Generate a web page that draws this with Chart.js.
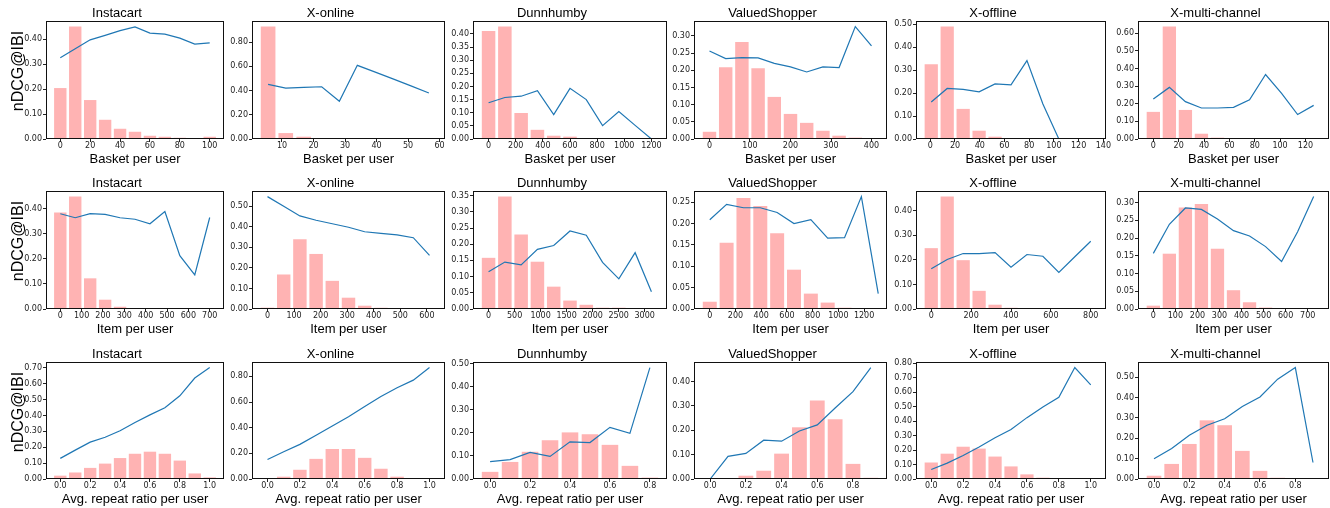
<!DOCTYPE html>
<html>
<head>
<meta charset="utf-8">
<script src="https://cdn.jsdelivr.net/npm/chart.js@4.4.0/dist/chart.umd.min.js"></script>
<style>
body { margin: 0; background: #fff; }
#wrap { position: relative; width: 1330px; height: 508px; overflow: hidden; background: #fff; }
canvas { position: absolute; }
.ylab { position: absolute; width: 140px; height: 20px; line-height: 20px; text-align: center;
        font-family: 'Liberation Sans', sans-serif; font-size: 16px; color: #000;
        transform: rotate(-90deg); white-space: nowrap; }
</style>
</head>
<body>
<div id="wrap"></div>
<script>
// JavaScript source code
var panelTitles = ["Instacart", "X-online", "Dunnhumby", "ValuedShopper", "X-offline", "X-multi-channel"];
var rowLabels = ["Basket per user", "Item per user", "Avg. repeat ratio per user"];
var yLabel = "nDCG@IBI";

// ---- Basket per user ----
var basketInstacartBins = [0, 10, 20, 30, 40, 50, 60, 70, 80, 90, 100];
var basketInstacartUsers = [0.204, 0.450, 0.156, 0.077, 0.041, 0.029, 0.013, 0.009, 0.005, 0.001, 0.009];
var basketInstacartNdcg = [0.325, 0.361, 0.397, 0.415, 0.434, 0.449, 0.424, 0.420, 0.404, 0.380, 0.385];

var basketOnlineBins = [5.6, 11.2, 16.9, 22.6, 28.2, 33.9, 39.6, 45.2, 50.9, 56.6];
var basketOnlineUsers = [0.929, 0.049, 0.019, 0.006, 0.003, 0.002, 0.001, 0.001, 0.0005, 0.0005];
var basketOnlineNdcg = [0.451, 0.421, 0.427, 0.432, 0.312, 0.609, 0.553, 0.497, 0.439, 0.380];

var basketDunnBins = [0, 120, 240, 360, 480, 600, 720, 840, 960, 1080, 1200];
var basketDunnUsers = [0.411, 0.428, 0.099, 0.035, 0.0125, 0.009, 0.002, 0.001, 0.0005, 0.0003, 0.0002];
var basketDunnNdcg = [0.138, 0.158, 0.163, 0.184, 0.093, 0.193, 0.150, 0.051, 0.105, 0.052, 0.0];

var basketValuedBins = [0, 40, 80, 120, 160, 200, 240, 280, 320, 360, 400];
var basketValuedUsers = [0.021, 0.209, 0.282, 0.206, 0.1225, 0.073, 0.047, 0.024, 0.0096, 0.004, 0.001];
var basketValuedNdcg = [0.256, 0.234, 0.237, 0.236, 0.220, 0.210, 0.195, 0.210, 0.208, 0.327, 0.271];

var basketOfflineBins = [0.8, 13.7, 26.6, 39.5, 52.4, 65.3, 78.2, 91.1, 104, 116.9, 129.8];
var basketOfflineUsers = [0.325, 0.489, 0.131, 0.036, 0.010, 0.003, 0.002, 0.001, 0.0005, 0.0003, 0.0002];
var basketOfflineNdcg = [0.161, 0.220, 0.216, 0.205, 0.240, 0.236, 0.341, 0.152, 0.0, null, null];

var basketMultiBins = [0, 12.65, 25.3, 37.95, 50.6, 63.25, 75.9, 88.55, 101.2, 113.85, 126.5];
var basketMultiUsers = [0.154, 0.638, 0.165, 0.030, 0.0075, 0.002, 0.001, 0.0005, 0.0003, 0.0002, 0.0002];
var basketMultiNdcg = [0.227, 0.293, 0.212, 0.176, 0.176, 0.180, 0.223, 0.366, 0.259, 0.139, 0.191];

// ---- Item per user ----
var itemInstacartBins = [0, 70, 140, 210, 280, 350, 420, 490, 560, 630, 700];
var itemInstacartUsers = [0.384, 0.447, 0.122, 0.037, 0.009, 0.002, 0.001, 0.0005, 0.0003, 0.0002, 0.0001];
var itemInstacartNdcg = [0.379, 0.363, 0.379, 0.376, 0.363, 0.357, 0.339, 0.388, 0.212, 0.136, 0.364];

var itemOnlineBins = [0, 61, 122, 183, 244, 305, 366, 427, 488, 549, 610];
var itemOnlineUsers = [0.0065, 0.168, 0.340, 0.268, 0.137, 0.055, 0.016, 0.006, 0.002, 0.001, 0.0005];
var itemOnlineNdcg = [0.547, 0.500, 0.453, 0.432, 0.415, 0.398, 0.376, 0.368, 0.361, 0.347, 0.261];

var itemDunnBins = [0, 313, 626, 939, 1252, 1565, 1878, 2191, 2504, 2817, 3130];
var itemDunnUsers = [0.158, 0.347, 0.230, 0.146, 0.069, 0.026, 0.013, 0.004, 0.004, 0.001, 0.0005];
var itemDunnNdcg = [0.115, 0.145, 0.136, 0.184, 0.196, 0.241, 0.228, 0.144, 0.093, 0.174, 0.053];

var itemValuedBins = [0, 131, 262, 393, 524, 655, 786, 917, 1048, 1179, 1310];
var itemValuedUsers = [0.017, 0.155, 0.260, 0.241, 0.177, 0.092, 0.036, 0.015, 0.003, null, null];
var itemValuedNdcg = [0.209, 0.245, 0.237, 0.237, 0.226, 0.200, 0.209, 0.166, 0.167, 0.263, 0.036];

var itemOfflineBins = [0, 80, 160, 240, 320, 400, 480, 560, 640, 720, 800];
var itemOfflineUsers = [0.248, 0.458, 0.199, 0.074, 0.0175, 0.005, 0.001, 0.0005, 0.0003, 0.0002, 0.0001];
var itemOfflineNdcg = [0.164, 0.202, 0.226, 0.226, 0.230, 0.170, 0.222, 0.215, 0.149, 0.213, 0.276];

var itemMultiBins = [0, 72.7, 145.4, 218.1, 290.8, 363.5, 436.2, 508.9, 581.6, 654.3, 727];
var itemMultiUsers = [0.0094, 0.156, 0.286, 0.296, 0.170, 0.053, 0.019, 0.004, 0.001, 0.0005, 0.0003];
var itemMultiNdcg = [0.157, 0.239, 0.285, 0.281, 0.254, 0.221, 0.206, 0.176, 0.134, 0.218, 0.317];

// ---- Avg. repeat ratio per user ----
var repeatBins11 = [0, 0.1, 0.2, 0.3, 0.4, 0.5, 0.6, 0.7, 0.8, 0.9, 1.0];
var repeatBins10 = [0, 0.1, 0.2, 0.3, 0.4, 0.5, 0.6, 0.7, 0.8, 0.9];
var repeatBins9 = [0, 0.1, 0.2, 0.3, 0.4, 0.5, 0.6, 0.7, 0.8];

var repeatInstacartUsers = [0.021, 0.041, 0.070, 0.097, 0.132, 0.159, 0.172, 0.159, 0.116, 0.035, 0.010];
var repeatInstacartNdcg = [0.130, 0.182, 0.232, 0.263, 0.304, 0.356, 0.404, 0.449, 0.524, 0.636, 0.702];

var repeatOnlineUsers = [0.001, 0.018, 0.072, 0.157, 0.234, 0.234, 0.165, 0.080, 0.018, 0.003, 0.002];
var repeatOnlineNdcg = [0.152, 0.213, 0.270, 0.342, 0.414, 0.486, 0.566, 0.643, 0.712, 0.771, 0.869];

var repeatDunnUsers = [0.031, 0.074, 0.118, 0.168, 0.202, 0.194, 0.148, 0.057, 0.006];
var repeatDunnNdcg = [0.0755, 0.084, 0.115, 0.098, 0.161, 0.158, 0.224, 0.198, 0.483];

var repeatValuedUsers = [0.0005, 0.0005, 0.0135, 0.034, 0.104, 0.212, 0.322, 0.245, 0.062, 0.005];
var repeatValuedNdcg = [0.0, 0.093, 0.105, 0.159, 0.155, 0.197, 0.222, 0.291, 0.358, 0.457];

var repeatOfflineUsers = [0.114, 0.175, 0.223, 0.210, 0.155, 0.087, 0.032, 0.009, 0.002, 0.001, 0.001];
var repeatOfflineNdcg = [0.066, 0.110, 0.162, 0.221, 0.285, 0.342, 0.424, 0.497, 0.565, 0.770, 0.651];

var repeatMultiUsers = [0.016, 0.074, 0.172, 0.288, 0.264, 0.138, 0.040, 0.006, 0.002, 0.001];
var repeatMultiNdcg = [0.099, 0.150, 0.215, 0.264, 0.296, 0.356, 0.403, 0.490, 0.547, 0.081];

// tick spacing per panel
var basketXSteps = [20, 10, 200, 100, 20, 20];
var basketYSteps = [0.1, 0.2, 0.05, 0.05, 0.1, 0.1];
var itemXSteps = [100, 100, 500, 200, 200, 100];
var itemYSteps = [0.1, 0.1, 0.05, 0.05, 0.1, 0.05];
var repeatXSteps = [0.2, 0.2, 0.2, 0.2, 0.2, 0.2];
var repeatYSteps = [0.1, 0.2, 0.1, 0.1, 0.1, 0.1];

var rows = [
    [[basketInstacartBins, basketInstacartUsers, basketInstacartNdcg],
     [basketOnlineBins, basketOnlineUsers, basketOnlineNdcg],
     [basketDunnBins, basketDunnUsers, basketDunnNdcg],
     [basketValuedBins, basketValuedUsers, basketValuedNdcg],
     [basketOfflineBins, basketOfflineUsers, basketOfflineNdcg],
     [basketMultiBins, basketMultiUsers, basketMultiNdcg]],
    [[itemInstacartBins, itemInstacartUsers, itemInstacartNdcg],
     [itemOnlineBins, itemOnlineUsers, itemOnlineNdcg],
     [itemDunnBins, itemDunnUsers, itemDunnNdcg],
     [itemValuedBins, itemValuedUsers, itemValuedNdcg],
     [itemOfflineBins, itemOfflineUsers, itemOfflineNdcg],
     [itemMultiBins, itemMultiUsers, itemMultiNdcg]],
    [[repeatBins11, repeatInstacartUsers, repeatInstacartNdcg],
     [repeatBins11, repeatOnlineUsers, repeatOnlineNdcg],
     [repeatBins9, repeatDunnUsers, repeatDunnNdcg],
     [repeatBins10, repeatValuedUsers, repeatValuedNdcg],
     [repeatBins11, repeatOfflineUsers, repeatOfflineNdcg],
     [repeatBins10, repeatMultiUsers, repeatMultiNdcg]]
];
var xSteps = [basketXSteps, itemXSteps, repeatXSteps];
var ySteps = [basketYSteps, itemYSteps, repeatYSteps];

// plot area placement (px)
var colLeft = [46, 252, 473, 694, 916, 1138];
var colRight = [224, 445, 667, 887, 1106, 1329];
var rowTop = [21, 191, 362];
var rowBottom = [139, 309, 479];
var padL = 36, padR = 14, padT = 18, padB = 30;
var BAR_FRAC = 0.83;

var boxPlugin = {
    id: 'box',
    afterDraw: function (chart) {
        var a = chart.chartArea, ctx = chart.ctx;
        ctx.save();
        ctx.strokeStyle = '#111';
        ctx.lineWidth = 1;
        ctx.strokeRect(Math.round(a.left) + 0.5, Math.round(a.top) + 0.5,
            Math.round(a.right - a.left) - 1, Math.round(a.bottom - a.top) - 1);
        ctx.restore();
    }
};

function makeTicks(step) {
    return function (s) {
        var t = [];
        var k = Math.ceil(s.min / step - 1e-9);
        while (k * step <= s.max + 1e-9) {
            t.push({ value: +(k * step).toFixed(6) });
            k++;
        }
        s.ticks = t;
    };
}

function drawPanel(r, c) {
    var bins = rows[r][c][0], users = rows[r][c][1], ndcg = rows[r][c][2];
    var L = colLeft[c], R = colRight[c], T = rowTop[r], B = rowBottom[r];
    var cv = document.createElement('canvas');
    var w = R - L + padL + padR, h = B - T + padT + padB;
    cv.width = w; cv.height = h;
    cv.style.left = (L - padL) + 'px';
    cv.style.top = (T - padT) + 'px';
    cv.style.width = w + 'px';
    cv.style.height = h + 'px';
    document.getElementById('wrap').appendChild(cv);

    // matplotlib-like limits: data extent (bar edges, line points) plus 5% margin, y top at max*1.05
    var step = bins[1] - bins[0];
    var half = step * BAR_FRAC / 2;
    var lo = Infinity, hi = -Infinity, ymax = 0;
    var barPts = [], linePts = [];
    for (var j = 0; j < bins.length; j++) {
        if (users[j] !== null) {
            lo = Math.min(lo, bins[j] - half);
            hi = Math.max(hi, bins[j] + half);
            ymax = Math.max(ymax, users[j]);
        }
        if (ndcg[j] !== null) {
            lo = Math.min(lo, bins[j]);
            hi = Math.max(hi, bins[j]);
            ymax = Math.max(ymax, ndcg[j]);
        }
        barPts.push({ x: bins[j], y: users[j] });
        linePts.push({ x: bins[j], y: ndcg[j] });
    }
    var m = (hi - lo) * 0.05;
    var tickFont = { family: 'DejaVu Sans', size: 8, lineHeight: 1 };

    new Chart(cv.getContext('2d'), {
        type: 'bar',
        data: {
            datasets: [{
                type: 'line',
                data: linePts,
                borderColor: '#1f77b4',
                borderWidth: 1.2,
                pointRadius: 0,
                tension: 0,
                fill: false,
                order: 0
            }, {
                type: 'bar',
                data: barPts,
                backgroundColor: '#ffb3b3',
                borderWidth: 0,
                categoryPercentage: 1,
                barPercentage: BAR_FRAC,
                order: 1
            }]
        },
        options: {
            responsive: false,
            animation: false,
            layout: { padding: { left: 0, right: padR, top: 0, bottom: 0 } },
            plugins: {
                legend: { display: false },
                tooltip: { enabled: false },
                title: {
                    display: true,
                    text: panelTitles[c],
                    color: '#000',
                    font: { family: 'Liberation Sans', size: 13, weight: 'normal', lineHeight: 1 },
                    padding: { top: 4, bottom: 1 }
                }
            },
            scales: {
                x: {
                    type: 'linear',
                    min: lo - m,
                    max: hi + m,
                    bounds: 'data',
                    offset: false,
                    grid: { display: true, offset: false, drawOnChartArea: false, drawTicks: true, tickLength: 3, color: '#222' },
                    border: { display: false },
                    afterBuildTicks: makeTicks(xSteps[r][c]),
                    afterFit: function (s) { s.height = padB; },
                    ticks: {
                        autoSkip: false, maxRotation: 0, padding: 0, color: '#222', font: tickFont,
                        callback: function (v) { return r === 2 ? v.toFixed(1) : String(Math.round(v)); }
                    },
                    title: {
                        display: true,
                        text: rowLabels[r],
                        color: '#000',
                        font: { family: 'Liberation Sans', size: 13, lineHeight: 1 },
                        padding: { top: 0, bottom: 3.5 }
                    }
                },
                y: {
                    type: 'linear',
                    min: 0,
                    max: ymax * 1.05,
                    bounds: 'data',
                    grid: { display: true, drawOnChartArea: false, drawTicks: true, tickLength: 3, color: '#222' },
                    border: { display: false },
                    afterBuildTicks: makeTicks(ySteps[r][c]),
                    afterFit: function (s) { s.width = padL; },
                    ticks: {
                        autoSkip: false, padding: 1, color: '#222', font: tickFont,
                        callback: function (v) { return v.toFixed(2); }
                    }
                }
            }
        },
        plugins: [boxPlugin]
    });
}

for (var r = 0; r < 3; r++) {
    for (var c = 0; c < 6; c++) {
        drawPanel(r, c);
    }
    var lab = document.createElement('div');
    lab.className = 'ylab';
    lab.textContent = yLabel;
    var cy = (rowTop[r] + rowBottom[r]) / 2 - 9;
    lab.style.left = (18 - 70) + 'px';
    lab.style.top = (cy - 10) + 'px';
    document.getElementById('wrap').appendChild(lab);
}
</script>
</body>
</html>
